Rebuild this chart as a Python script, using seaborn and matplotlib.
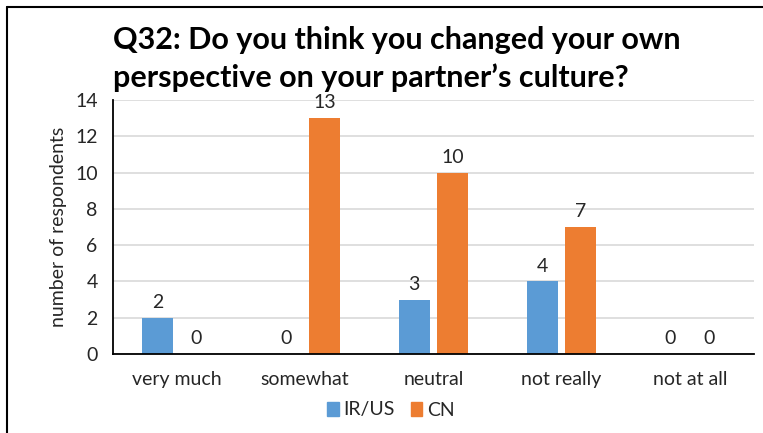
import matplotlib
matplotlib.use("Agg")
import matplotlib.pyplot as plt
from matplotlib.lines import Line2D
import seaborn as sns
import pandas as pd

categories = ["very much", "somewhat", "neutral", "not really", "not at all"]
ir_us = [2, 0, 3, 4, 0]
cn = [0, 13, 10, 7, 0]
series_names = ["IR/US", "CN"]
y_ticks = [0, 2, 4, 6, 8, 10, 12, 14]

df = pd.DataFrame({
    "answer": categories * 2,
    "group": [series_names[0]] * len(categories) + [series_names[1]] * len(categories),
    "count": ir_us + cn,
})

sns.set_theme(style="white")
plt.rcParams["font.family"] = ["Lato", "DejaVu Sans"]
text_color = "#262626"
fs = 14

fig = plt.figure(figsize=(7.63, 4.33), dpi=100)
ax = fig.add_axes([0.148, 0.1824, 0.840, 0.5866])

sns.barplot(data=df, x="answer", y="count", hue="group", order=categories,
            hue_order=series_names, palette=["#5B9BD5", "#ED7D31"],
            width=0.6, gap=0.2, ax=ax, legend=False, saturation=1, linewidth=0)

for cont in ax.containers:
    ax.bar_label(cont, fmt="%d", padding=5, fontsize=fs, color=text_color)

ax.set_ylim(0, 14)
ax.set_xlim(-0.5, len(categories) - 0.5)
ax.set_yticks(y_ticks)
ax.yaxis.grid(True, color="#D9D9D9", linewidth=1.2)
ax.set_axisbelow(True)
for side in ["top", "right"]:
    ax.spines[side].set_visible(False)
for side in ["left", "bottom"]:
    ax.spines[side].set_color("black")
    ax.spines[side].set_linewidth(1.3)
ax.tick_params(axis="both", labelsize=fs, colors=text_color, length=0)
ax.tick_params(axis="x", pad=12)
ax.tick_params(axis="y", pad=11)
ax.set_xlabel("")
ax.set_ylabel("number of respondents", fontsize=fs, color=text_color, labelpad=6)

fig.text(113 / 763, 1 - 40 / 433,
         "Q32: Do you think you changed your own",
         fontsize=22, fontweight="bold", color="black", va="center", ha="left")
fig.text(113 / 763, 1 - 78 / 433,
         "perspective on your partner\u2019s culture?",
         fontsize=22, fontweight="bold", color="black", va="center", ha="left")

handles = [plt.Rectangle((0, 0), 1, 1, color=c) for c in ["#5B9BD5", "#ED7D31"]]
fig.legend(handles, series_names, loc="center", bbox_to_anchor=(391 / 763, 1 - 410 / 433),
           ncol=2, frameon=False, fontsize=fs, handlelength=0.6, handleheight=0.7,
           handletextpad=0.25, columnspacing=0.8, labelcolor=text_color)

# chart frame on the left and top
fig.add_artist(Line2D([7 / 763, 7 / 763], [0, 1 - 7 / 433], color="black", linewidth=1.5,
                      transform=fig.transFigure))
fig.add_artist(Line2D([7 / 763, 1], [1 - 7 / 433, 1 - 7 / 433], color="black", linewidth=1.5,
                      transform=fig.transFigure))

fig.savefig("out.png", dpi=100)
